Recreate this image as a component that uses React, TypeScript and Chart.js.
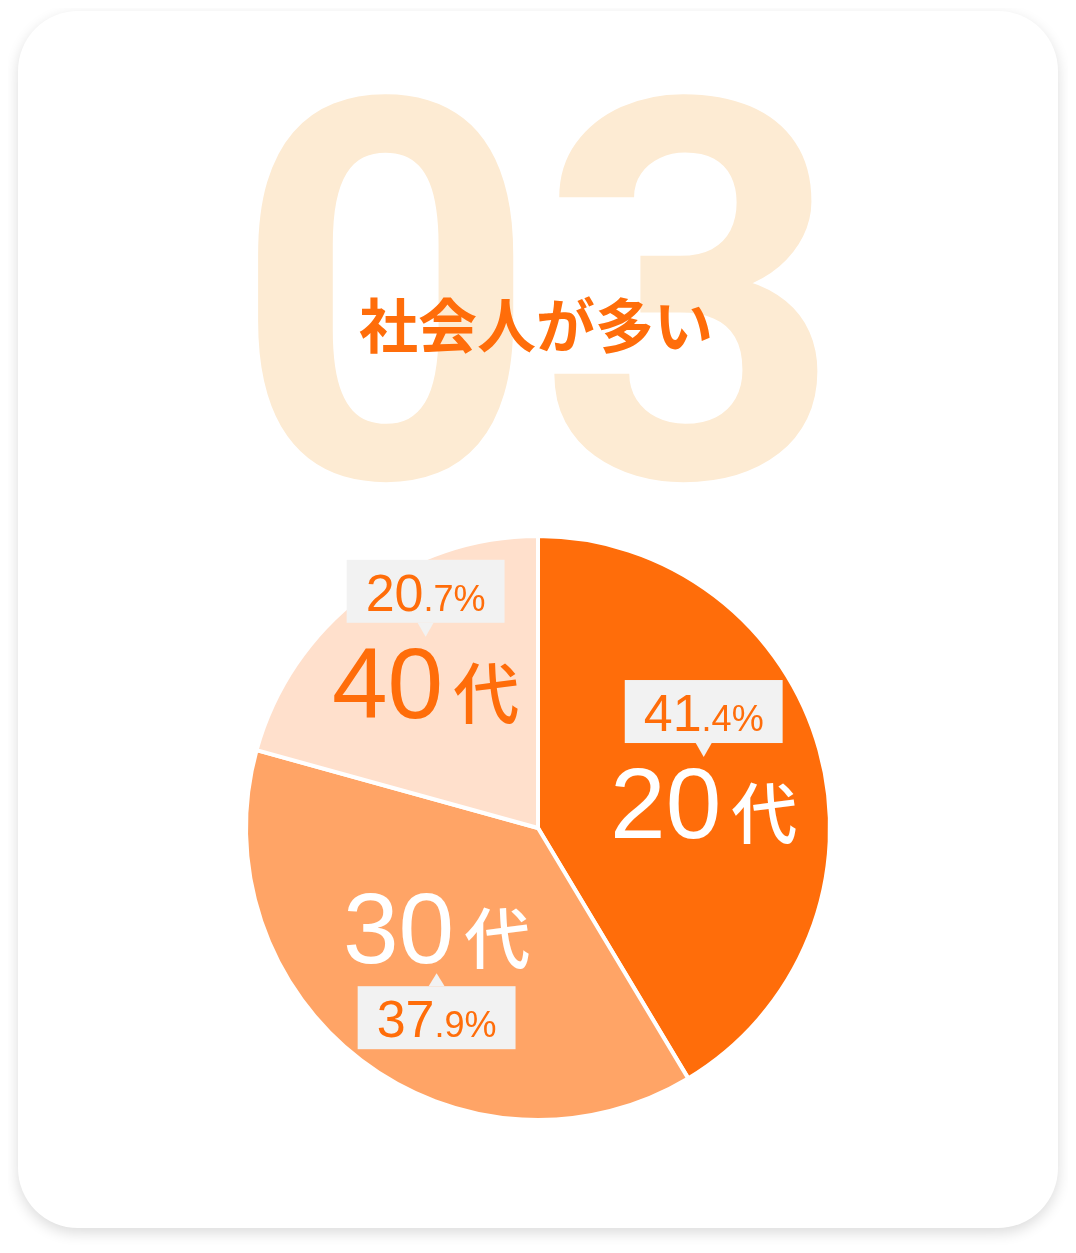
import { useEffect, useRef } from "react";
import { Chart, registerables, type Plugin } from "chart.js";

Chart.register(...registerables);

// data
const categories = ["20代", "30代", "40代"];
const shares = [41.4, 37.9, 20.7];
const sliceColors = ["#FF6D0A", "#FFA466", "#FFE0CC"];
const labelColors = ["#FFFFFF", "#FFFFFF", "#FF6D0A"];
const title = "社会人が多い";
const bigNumber = "03";

const ORANGE = "#FF6D0A";
const CARD_W = 1040;
const CARD_H = 1217;
const LATIN = "'Liberation Sans', Arial, sans-serif";
const CJK = "'Noto Sans CJK JP', sans-serif";

// callout placement relative to the slice mid point (tip of the pointer)
const callouts = [
  { dx: 25, dy: -32, boxAbove: true },
  { dx: -13, dy: 29, boxAbove: false },
  { dx: -24, dy: -75, boxAbove: true },
];

const backdrop: Plugin<"pie"> = {
  id: "backdrop",
  beforeDatasetsDraw(chart) {
    const ctx = chart.ctx;
    const cx = chart.width / 2;
    ctx.save();
    ctx.fillStyle = "#FDEBD3";
    ctx.font = "700 531px Roboto, sans-serif";
    ctx.textAlign = "center";
    ctx.textBaseline = "alphabetic";
    ctx.fillText(bigNumber, cx, 466);

    // title, char by char
    ctx.font = `700 59px ${CJK}`;
    ctx.fillStyle = ORANGE;
    ctx.textAlign = "left";
    const chars = [...title];
    const gap = 0;
    const widths = chars.map((c) => ctx.measureText(c).width);
    const total = widths.reduce((a, b) => a + b, 0) + gap * (chars.length - 1);
    let x = cx - total / 2 - 2;
    chars.forEach((c, i) => {
      ctx.fillText(c, x, 337);
      x += widths[i] + gap;
    });
    ctx.restore();
  },
};

const calloutPlugin: Plugin<"pie"> = {
  id: "callouts",
  afterDatasetsDraw(chart) {
    const ctx = chart.ctx;
    const arcs = chart.getDatasetMeta(0).data;
    ctx.save();
    ctx.textBaseline = "alphabetic";
    ctx.textAlign = "left";
    arcs.forEach((arc, i) => {
      const mid = arc.tooltipPosition(false);
      const c = callouts[i];
      const tipX = mid.x + c.dx;
      const tipY = mid.y + c.dy;

      const [whole, frac] = shares[i].toFixed(1).split(".");
      const tail = "." + frac + "%";
      ctx.font = `52px ${LATIN}`;
      const w1 = ctx.measureText(whole).width;
      ctx.font = `36px ${LATIN}`;
      const w2 = ctx.measureText(tail).width;

      const boxW = w1 + w2 + 38;
      const boxH = 63;
      const boxX = tipX - boxW / 2;
      const boxY = c.boxAbove ? tipY - 14 - boxH : tipY + 13;
      ctx.fillStyle = "#F2F2F2";
      ctx.fillRect(boxX, boxY, boxW, boxH);
      const baseY = c.boxAbove ? boxY + boxH : boxY;
      ctx.beginPath();
      ctx.moveTo(tipX - 8, baseY);
      ctx.lineTo(tipX + 8, baseY);
      ctx.lineTo(tipX, tipY);
      ctx.closePath();
      ctx.fill();

      // percentage
      ctx.fillStyle = ORANGE;
      let x = tipX - (w1 + w2) / 2;
      const pctBase = boxY + 51;
      ctx.font = `52px ${LATIN}`;
      ctx.fillText(whole, x, pctBase);
      x += w1;
      ctx.font = `36px ${LATIN}`;
      ctx.fillText(tail, x, pctBase);

      // age label
      const num = categories[i].replace("代", "");
      const suffix = "代";
      ctx.font = `100px ${LATIN}`;
      const n1 = ctx.measureText(num).width;
      ctx.font = `500 66px ${CJK}`;
      const n2 = ctx.measureText(suffix).width;
      const spacing = 10;
      const labelBase = c.boxAbove ? tipY + 81 : tipY - 10;
      let lx = tipX - (n1 + spacing + n2) / 2;
      ctx.fillStyle = labelColors[i];
      ctx.font = `100px ${LATIN}`;
      ctx.fillText(num, lx, labelBase);
      lx += n1 + spacing;
      ctx.font = `500 66px ${CJK}`;
      ctx.fillText(suffix, lx, labelBase);
    });
    ctx.restore();
  },
};

export default function App() {
  const canvasRef = useRef<HTMLCanvasElement | null>(null);
  const chartRef = useRef<Chart<"pie"> | null>(null);

  useEffect(() => {
    if (!canvasRef.current) return;
    chartRef.current?.destroy();
    chartRef.current = new Chart(canvasRef.current, {
      type: "pie",
      data: {
        labels: categories,
        datasets: [
          {
            data: shares,
            backgroundColor: sliceColors,
            borderColor: "#FFFFFF",
            borderWidth: 4,
          },
        ],
      },
      options: {
        responsive: false,
        animation: false,
        events: [],
        radius: 292,
        layout: { padding: { top: 517, bottom: 100, left: 0, right: 0 } },
        plugins: {
          legend: { display: false },
          tooltip: { enabled: false },
        },
      },
      plugins: [backdrop, calloutPlugin],
    });
    return () => {
      chartRef.current?.destroy();
      chartRef.current = null;
    };
  }, []);

  return (
    <div style={{ position: "relative", height: 1237 }}>
      <div
        style={{
          position: "absolute",
          left: 10,
          top: 3,
          width: CARD_W,
          height: CARD_H,
          background: "#FFFFFF",
          borderRadius: 60,
          boxShadow: "0 5px 14px rgba(0,0,0,0.14)",
          overflow: "hidden",
        }}
      >
        <canvas
          ref={canvasRef}
          width={CARD_W}
          height={CARD_H}
          style={{ display: "block" }}
        />
      </div>
    </div>
  );
}
